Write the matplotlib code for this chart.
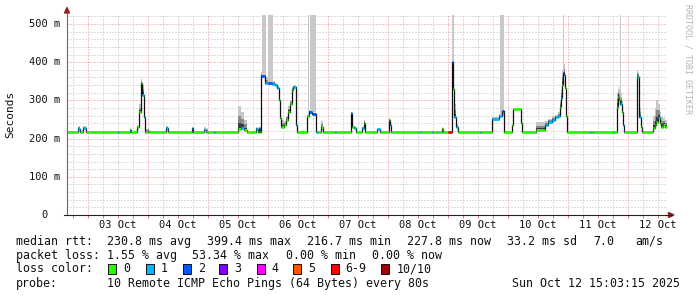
import numpy as np
import matplotlib
matplotlib.use("Agg")
from matplotlib import pyplot as plt
from matplotlib.collections import LineCollection
from matplotlib.patches import Rectangle, Polygon
from matplotlib.lines import Line2D
import matplotlib.transforms as mtransforms

# median rtt, hours since 03 Oct 00:00, value in ms, loss count, top of smoke in ms
seg_h = [-8.4, -4.0, -3.2, -2.0, -0.8, 12.0, 12.4, 16.8, 17.2, 19.6, 20.4, 21.2, 21.6, 22.4, 22.8,
         24.0, 24.4, 31.2, 32.0, 41.6, 42.0, 46.4, 47.2, 48.0, 50.4, 50.8, 60.0, 61.2, 62.4, 63.6,
         67.2, 68.0, 68.4, 68.8, 69.2, 70.8, 72.0, 73.6, 74.8, 75.6, 76.4, 76.8, 77.2, 78.4, 79.2,
         80.0, 80.8, 81.6, 82.0, 83.2, 83.6, 87.6, 88.4, 89.6, 91.2, 92.0, 93.2, 94.0, 98.8, 99.2,
         105.2, 105.6, 106.4, 107.2, 109.6, 110.4, 110.8, 115.6, 116.8, 120.4, 120.8, 121.2, 132.8, 133.2, 137.6,
         138.0, 139.6, 140.0, 141.6, 142.0, 144.0, 145.6, 146.0, 146.4, 147.2, 148.0, 156.8, 157.2, 161.6, 164.4,
         165.6, 166.4, 169.6, 170.0, 173.2, 173.6, 179.2, 182.8, 184.0, 185.6, 186.8, 188.0, 188.8, 189.2, 189.6,
         190.0, 190.4, 190.8, 191.2, 191.6, 200.8, 201.2, 202.0, 202.4, 210.0, 210.4, 211.6, 212.0, 212.4, 212.8,
         213.6, 214.0, 214.4, 219.6, 220.0, 220.4, 221.2, 221.6, 226.0, 226.8, 227.2, 228.0, 228.8, 229.2, 230.0,
         230.8]
seg_med = [217, 226, 217, 227, 217, 217, 217, 222, 217, 230, 270, 345, 315, 257, 217,
           221, 217, 229, 217, 227, 217, 222, 217, 217, 217, 217, 225, 228, 222, 217,
           226, 217, 228, 217, 364, 346, 346, 344, 340, 332, 300, 254, 231, 235, 250,
           270, 290, 327, 335, 235, 217, 259, 270, 265, 217, 217, 230, 217, 217, 217,
           267, 230, 228, 217, 228, 240, 217, 224, 217, 248, 235, 217, 217, 217, 217,
           217, 217, 217, 226, 217, 217, 400, 330, 257, 230, 217, 217, 217, 251, 259,
           272, 217, 235, 277, 240, 217, 222, 235, 243, 250, 256, 260, 283, 305, 340,
           372, 366, 332, 260, 217, 217, 217, 217, 217, 217, 217, 283, 309, 301, 290,
           270, 235, 217, 361, 361, 257, 230, 217, 228, 235, 243, 254, 240, 230, 235,
           230]
seg_loss = [0, 1, 0, 1, 0, 1, 0, 1, 0, 0, 0, 0, 1, 1, 0,
            0, 0, 1, 0, 1, 0, 1, 0, 0, 1, 0, 0, 1, 0, 0,
            1, 0, 1, 0, 2, 1, 2, 1, 1, 1, 0, 0, 0, 0, 0,
            0, 0, 0, 1, 1, 0, 0, 2, 2, 1, 0, 0, 0, 1, 0,
            1, 0, 1, 0, 1, 0, 0, 1, 0, 0, 1, 0, 1, 0, 1,
            0, 1, 0, 0, 0, 6, 2, 0, 1, 1, 0, 1, 0, 1, 1,
            2, 0, 0, 0, 0, 0, 0, 1, 1, 1, 1, 1, 0, 1, 0,
            3, 1, 0, 0, 0, 1, 0, 1, 0, 1, 0, 0, 0, 0, 1,
            0, 1, 0, 0, 1, 1, 0, 0, 0, 0, 0, 1, 0, 0, 0,
            0]
seg_top = [217, 232, 222, 232, 217, 217, 217, 228, 217, 235, 290, 355, 340, 300, 225,
           228, 217, 232, 217, 230, 217, 230, 228, 217, 217, 217, 285, 270, 250, 217,
           230, 217, 230, 217, 375, 360, 355, 350, 345, 340, 320, 280, 250, 245, 260,
           285, 300, 335, 340, 240, 217, 262, 275, 268, 217, 217, 245, 217, 217, 217,
           270, 235, 232, 217, 230, 250, 217, 228, 217, 255, 240, 217, 217, 217, 217,
           217, 217, 217, 230, 217, 217, 470, 400, 290, 240, 217, 217, 217, 256, 265,
           275, 217, 235, 277, 240, 217, 243, 245, 252, 258, 262, 270, 300, 330, 380,
           400, 395, 360, 300, 217, 217, 217, 217, 217, 217, 217, 320, 335, 330, 320,
           300, 250, 217, 380, 375, 280, 240, 217, 260, 280, 300, 290, 270, 260, 255,
           250]
end_h = 231.6

# full height grey columns (hours)
bar_start = [69.6, 72.0, 87.9, 88.8, 145.6, 164.8, 189.0, 190.1, 212.8]
bar_end = [71.2, 74.0, 88.3, 91.2, 146.4, 166.4, 189.3, 190.4, 213.1]

day_labels = ["03 Oct", "04 Oct", "05 Oct", "06 Oct", "07 Oct",
              "08 Oct", "09 Oct", "10 Oct", "11 Oct", "12 Oct"]
y_ticks = [100, 200, 300, 400, 500]

loss_colors = {0: "#26ff00", 1: "#00b8ff", 2: "#0059ff", 3: "#7e00ff",
               4: "#ff00ff", 5: "#ff5500", 6: "#ff0000", 10: "#a10000"}
loss_names = ["0", "1", "2", "3", "4", "5", "6-9", "10/10"]
loss_keys = [0, 1, 2, 3, 4, 5, 6, 10]

W, H = 697, 297
YMAX = 523.6
MONO = "DejaVu Sans Mono"
LFS = 8.4

def fx(x):
    return x / W

def fy(y):
    return 1 - y / H

fig = plt.figure(figsize=(W / 100, H / 100), dpi=100)
fig.set_facecolor("w")
ax = fig.add_axes([fx(67), fy(215), 600 / W, 200 / H])
ax.set_xlim(-8.4, end_h)
ax.set_ylim(0, YMAX)
for s in ax.spines.values():
    s.set_visible(False)

ax.set_xticks(np.arange(0, 217, 24))
ax.set_xticks(np.arange(-6, 232, 6), minor=True)
ax.set_yticks(y_ticks)
ax.set_yticks(np.arange(20, 521, 20), minor=True)
ax.grid(which="minor", color="#bdbdbd", ls=(0, (1, 2)), lw=0.72)
ax.grid(which="major", color="#ec8a8a", ls=(0, (1, 2)), lw=0.72)
ax.tick_params(which="both", labelbottom=False, labelleft=False, length=2,
               width=0.7, color="#d08080", direction="out")
ax.tick_params(axis="y", which="both", length=0)
ax.set_axisbelow(True)

t = np.array(seg_h + [end_h])
med = np.array(seg_med + [seg_med[-1]], dtype=float)
top = np.array(seg_top + [seg_top[-1]], dtype=float)

# smoke
ax.fill_between(t, med, top, step="post", color="#c6c6c6", lw=0, zorder=2)
ax.fill_between(t, med, med + (top - med) * 0.55, step="post", color="#8a8a8a", lw=0, zorder=2)
ax.fill_between(t, med, med + (top - med) * 0.25, step="post", color="#3a3a3a", lw=0, zorder=2)

for a, b in zip(bar_start, bar_end):
    i = np.searchsorted(t, a, side="right") - 1
    m = med[i]
    ax.fill_between([a, b], [m, m], [YMAX, YMAX], color="#c8c8c8", lw=0, zorder=2)

# median line
ax.step(t, med, where="post", color="#111111", lw=0.9, zorder=3)
segs = [[(t[i], med[i]), (t[i + 1], med[i])] for i in range(len(seg_h))]
cols = [loss_colors[l] for l in seg_loss]
ax.add_collection(LineCollection(segs, colors=cols, linewidths=2.0, capstyle="butt", zorder=4))

# axes lines and arrows
fig.add_artist(Line2D([fx(67), fx(67)], [fy(215), fy(12)], color="#6a6a6a", lw=0.8))
fig.add_artist(Line2D([fx(64), fx(671)], [fy(215), fy(215)], color="#222222", lw=0.8))
fig.add_artist(Polygon([(fx(64.5), fy(13)), (fx(69.5), fy(13)), (fx(67), fy(7.5))],
                       closed=True, color="#8b1f1f", transform=fig.transFigure))
fig.add_artist(Polygon([(fx(668.5), fy(212.5)), (fx(668.5), fy(217.5)), (fx(674), fy(215))],
                       closed=True, color="#8b1f1f", transform=fig.transFigure))

# tick labels
ytr = mtransforms.blended_transform_factory(fig.transFigure, ax.transData)
for v in y_ticks:
    ax.text(fx(60.5), v, f"{v} m", transform=ytr, ha="right", va="center",
            fontsize=7.5, family=MONO, color="#111111")
ax.text(fx(48), 0, "0", transform=ytr, ha="right", va="center",
        fontsize=7.5, family=MONO, color="#111111")
xtr = mtransforms.blended_transform_factory(ax.transData, fig.transFigure)
for k, lab in enumerate(day_labels):
    ax.text(12 + 24 * k, fy(225), lab, transform=xtr, ha="center", va="center",
            fontsize=7.5, family=MONO, color="#111111")

fig.text(fx(10), fy(114), "Seconds", rotation=90, ha="center", va="center",
         fontsize=8, family=MONO, color="#111111")
fig.text(fx(688), fy(4), "RRDTOOL / TOBI OETIKER", rotation=270, ha="center", va="top",
         fontsize=6, family=MONO, color="#b4b4b4")

# legend
def txt(x, y, s, ha="left"):
    fig.text(fx(x), fy(y), s, ha=ha, va="center",
             fontsize=LFS, family=MONO, color="#111111")

r1, r2, r3, r4 = 241.3, 255.3, 268.7, 283.5
txt(16, r1, "median rtt:")
txt(107, r1, "230.8 ms avg")
txt(207, r1, "399.4 ms max")
txt(307, r1, "216.7 ms min")
txt(407, r1, "227.8 ms now")
txt(507, r1, "33.2 ms sd")
txt(593, r1, "7.0")
txt(635, r1, "am/s")
txt(16, r2, "packet loss:")
txt(107, r2, "1.55 % avg")
txt(192.5, r2, "53.34 % max")
txt(286, r2, "0.00 % min")
txt(372, r2, "0.00 % now")
txt(16, r3, "loss color:")
box_x = [108.3, 145.7, 182.7, 219.3, 256.7, 293.3, 330.7, 381.3]
for bx, key, name in zip(box_x, loss_keys, loss_names):
    fig.add_artist(Rectangle((fx(bx), fy(r3 + 5)), 8 / W, 10 / H, transform=fig.transFigure,
                             facecolor=loss_colors[key], edgecolor="#111111", lw=0.7))
    txt(bx + 15, r3, name)
txt(16, r4, "probe:")
txt(107, r4, "10 Remote ICMP Echo Pings (64 Bytes) every 80s")
txt(680.5, r4, "Sun Oct 12 15:03:15 2025", ha="right")

fig.savefig("out.png", dpi=100, facecolor="w")
